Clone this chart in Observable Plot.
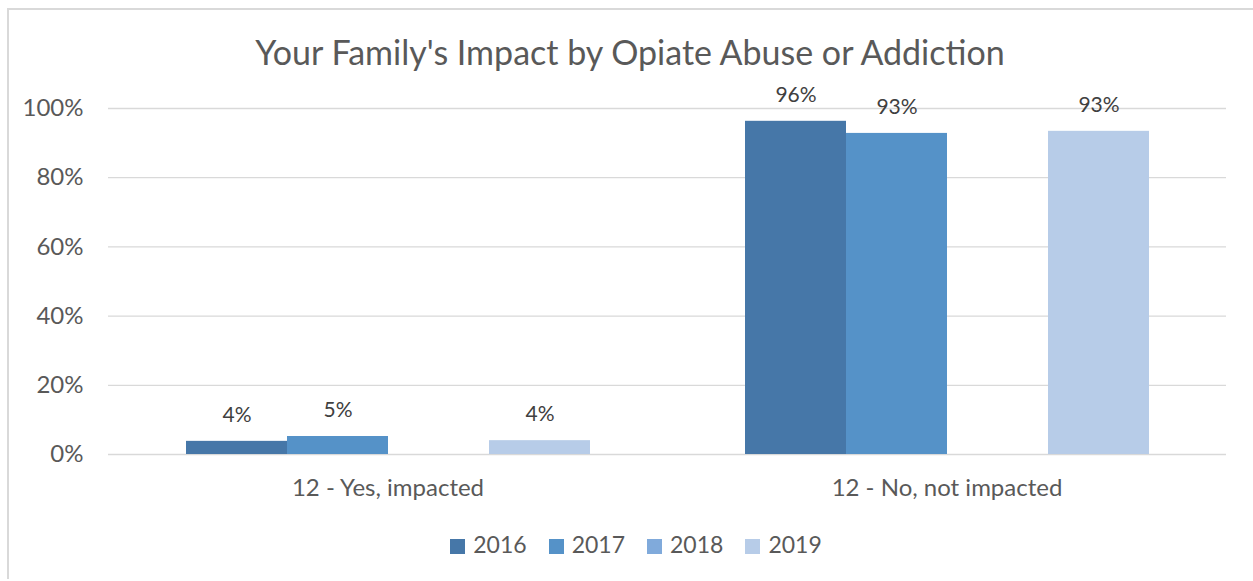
<!DOCTYPE html>
<html>
<head>
<meta charset="utf-8">
<script src="https://cdn.jsdelivr.net/npm/d3@7"></script>
<script src="https://cdn.jsdelivr.net/npm/@observablehq/plot@0.6"></script>
<style>
  html, body { margin: 0; padding: 0; background: #fff; }
  #wrap { position: relative; width: 1253px; height: 581px; overflow: hidden; font-family: Lato, "Open Sans", sans-serif; }
  #frame { position: absolute; left: 7px; top: 8px; width: 1300px; height: 569px; border-left: 2px solid #d9d9d9; border-top: 2px solid #d9d9d9; }
  #title { position: absolute; left: 0; width: 1260px; top: 31px; text-align: center; font-size: 34px; color: #595959; }
  #chart { position: absolute; left: 0; top: 0; }
  #legend { position: absolute; left: 6px; width: 1260px; top: 530px; text-align: center; font-size: 23px; color: #595959; }
  .li { display: inline-block; margin: 0 11px; }
  .sw { display: inline-block; width: 15px; height: 15px; margin-right: 8px; vertical-align: -1px; }
</style>
</head>
<body>
<div id="wrap">
  <div id="frame"></div>
  <div id="title"></div>
  <div id="chart"></div>
  <div id="legend"></div>
</div>
<script>
const title = "Your Family's Impact by Opiate Abuse or Addiction";
const categories = ["12 - Yes, impacted", "12 - No, not impacted"];
const years = ["2016", "2017", "2018", "2019"];
const colors = ["#4677a8", "#5592c8", "#80aadb", "#b7cce8"];
// values in percent; 2018 has no data
const values2016 = [3.8, 96.3];
const values2017 = [5.2, 92.8];
const values2019 = [4.0, 93.4];
const yTicks = [0, 20, 40, 60, 80, 100];

const seriesByYear = {"2016": values2016, "2017": values2017, "2019": values2019};
const data = [];
for (const y of Object.keys(seriesByYear)) {
  categories.forEach((c, i) => data.push({category: c, year: y, value: seriesByYear[y][i]}));
}

document.getElementById("title").textContent = title;

const plot = Plot.plot({
  width: 1253,
  height: 510,
  marginTop: 108,
  marginBottom: 56,
  marginLeft: 108,
  marginRight: 27,
  style: {fontFamily: "Lato, 'Open Sans', sans-serif", fontSize: "24px", background: "transparent", color: "#595959"},
  fx: {domain: categories, padding: 0, axis: "bottom", label: null, tickSize: 0, tickPadding: 24},
  x: {domain: years, paddingInner: 0, paddingOuter: 0.75, axis: null},
  y: {domain: [0, 100], ticks: yTicks, tickFormat: d => d + "%", label: null, tickSize: 0, tickPadding: 25},
  color: {domain: years, range: colors},
  marks: [
    Plot.ruleY(yTicks, {stroke: "#d9d9d9", strokeWidth: 1.3}),
    Plot.barY(data, {fx: "category", x: "year", y: "value", fill: "year", inset: 0}),
    Plot.text(data, {fx: "category", x: "year", y: "value", text: d => Math.round(d.value) + "%", dy: -26, fontSize: 21, fill: "#404040"})
  ]
});
document.getElementById("chart").appendChild(plot);

const legend = document.getElementById("legend");
years.forEach((y, i) => {
  const item = document.createElement("span");
  item.className = "li";
  const sw = document.createElement("span");
  sw.className = "sw";
  sw.style.background = colors[i];
  item.appendChild(sw);
  item.appendChild(document.createTextNode(y));
  legend.appendChild(item);
});
</script>
</body>
</html>
